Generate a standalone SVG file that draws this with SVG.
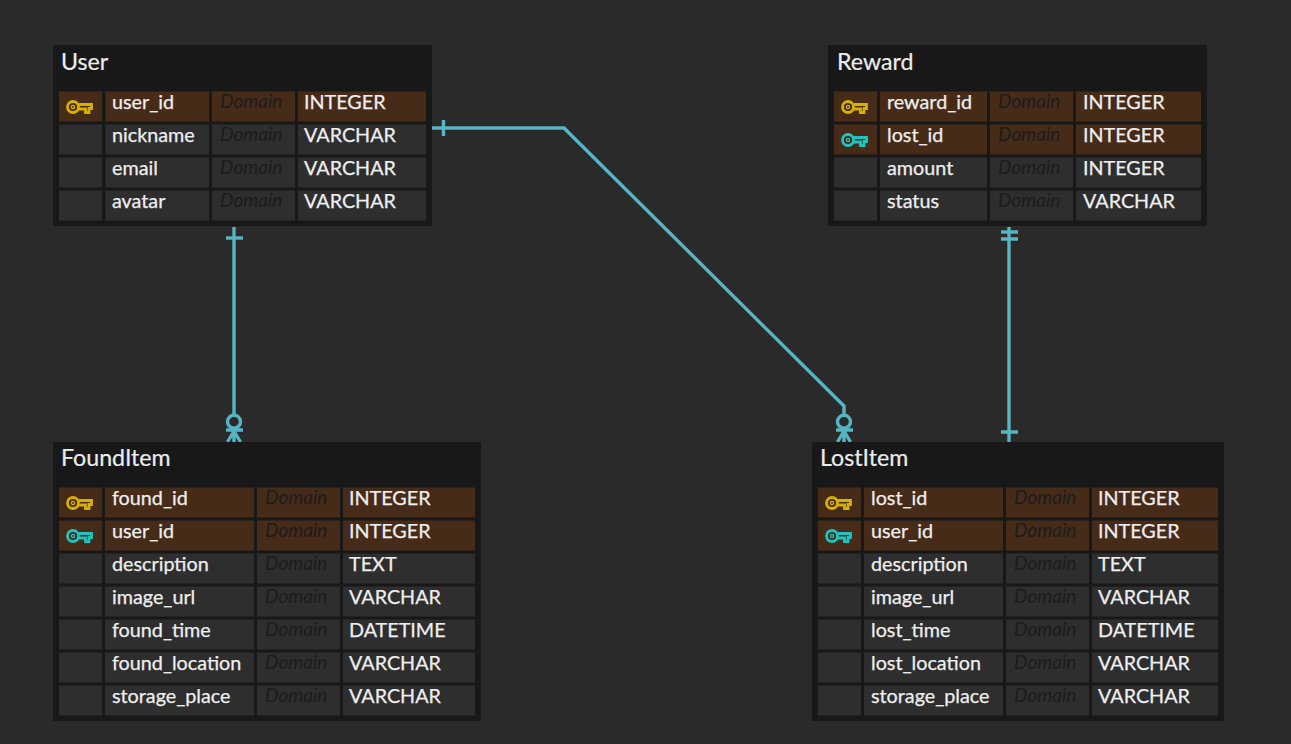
<svg xmlns="http://www.w3.org/2000/svg" width="1291" height="744" viewBox="0 0 1291 744">
<style>
text{font-family:Lato,"Noto Sans",sans-serif}
.t{fill:#181818}
.title{font-size:23.200px;fill:#ececec;stroke:#ececec;stroke-width:.2}
.c{fill:#2e2e2e}
.k{fill:#472b19}
.n{font-size:19.750px;fill:#eeeeee;stroke:#eeeeee;stroke-width:.25}
.d{font-size:19px;font-style:italic;fill:#1c1c1c}
.line{fill:none;stroke:#56b4c3;stroke-width:3.400}
</style>
<defs>
<g id="key" fill="none" stroke-width="2.800">
<circle cx="-6" cy="0" r="5.500"/><circle cx="-6" cy="0" r="1.600" stroke-width="1.400"/>
<path d="M0 -2.500H12.500V1.500H10V5.500H6.500V2H0"/>
</g>
</defs>
<rect width="1291" height="744" fill="#2a2a2a"/>
<g id="connectors" class="line">
<path d="M234 227V414"/><path d="M226 238H243"/>
<circle cx="234" cy="421.700" r="6.500"/><path d="M226 430H243M234 428V442M234 431L227.500 442M234 431L240.500 442"/>
<path d="M432 128H564L844 406V414"/><path d="M443.500 120V136"/>
<circle cx="844" cy="421.700" r="6.500"/><path d="M836 430H853M844 428V442M844 431L837.500 442M844 431L850.500 442"/>
<path d="M1009 227V442"/><path d="M1001 232H1018M1001 239H1018M1001 432H1018"/>
</g>
<g id="User">
<rect class="t" x="53" y="45" width="379" height="181"/>
<text class="title" x="61" y="70">User</text>
<rect class="k" x="59" y="91.500" width="43" height="30"/><rect class="k" x="105.500" y="91.500" width="103.500" height="30"/><rect class="k" x="212" y="91.500" width="83" height="30"/><rect class="k" x="298" y="91.500" width="128" height="30"/>
<rect class="c" x="59" y="124.500" width="43" height="30"/><rect class="c" x="105.500" y="124.500" width="103.500" height="30"/><rect class="c" x="212" y="124.500" width="83" height="30"/><rect class="c" x="298" y="124.500" width="128" height="30"/>
<rect class="c" x="59" y="157.500" width="43" height="30"/><rect class="c" x="105.500" y="157.500" width="103.500" height="30"/><rect class="c" x="212" y="157.500" width="83" height="30"/><rect class="c" x="298" y="157.500" width="128" height="30"/>
<rect class="c" x="59" y="190.500" width="43" height="30"/><rect class="c" x="105.500" y="190.500" width="103.500" height="30"/><rect class="c" x="212" y="190.500" width="83" height="30"/><rect class="c" x="298" y="190.500" width="128" height="30"/>
<use href="#key" x="79" y="107" stroke="#d8b000"/>
<text class="n" x="112" y="109">user_id</text><text class="d" x="220" y="108">Domain</text><text class="n" x="304" y="109">INTEGER</text>
<text class="n" x="112" y="142">nickname</text><text class="d" x="220" y="141">Domain</text><text class="n" x="304" y="142">VARCHAR</text>
<text class="n" x="112" y="175">email</text><text class="d" x="220" y="174">Domain</text><text class="n" x="304" y="175">VARCHAR</text>
<text class="n" x="112" y="208">avatar</text><text class="d" x="220" y="207">Domain</text><text class="n" x="304" y="208">VARCHAR</text>
</g>
<g id="Reward">
<rect class="t" x="828" y="45" width="379" height="181"/>
<text class="title" x="837" y="70">Reward</text>
<rect class="k" x="834" y="91.500" width="43" height="30"/><rect class="k" x="880" y="91.500" width="107" height="30"/><rect class="k" x="990" y="91.500" width="83" height="30"/><rect class="k" x="1076" y="91.500" width="125" height="30"/>
<rect class="k" x="834" y="124.500" width="43" height="30"/><rect class="k" x="880" y="124.500" width="107" height="30"/><rect class="k" x="990" y="124.500" width="83" height="30"/><rect class="k" x="1076" y="124.500" width="125" height="30"/>
<rect class="c" x="834" y="157.500" width="43" height="30"/><rect class="c" x="880" y="157.500" width="107" height="30"/><rect class="c" x="990" y="157.500" width="83" height="30"/><rect class="c" x="1076" y="157.500" width="125" height="30"/>
<rect class="c" x="834" y="190.500" width="43" height="30"/><rect class="c" x="880" y="190.500" width="107" height="30"/><rect class="c" x="990" y="190.500" width="83" height="30"/><rect class="c" x="1076" y="190.500" width="125" height="30"/>
<use href="#key" x="854" y="107" stroke="#d8b000"/><use href="#key" x="854" y="140" stroke="#1fc4c0"/>
<text class="n" x="887" y="109">reward_id</text><text class="d" x="998" y="108">Domain</text><text class="n" x="1083" y="109">INTEGER</text>
<text class="n" x="887" y="142">lost_id</text><text class="d" x="998" y="141">Domain</text><text class="n" x="1083" y="142">INTEGER</text>
<text class="n" x="887" y="175">amount</text><text class="d" x="998" y="174">Domain</text><text class="n" x="1083" y="175">INTEGER</text>
<text class="n" x="887" y="208">status</text><text class="d" x="998" y="207">Domain</text><text class="n" x="1083" y="208">VARCHAR</text>
</g>
<g id="FoundItem">
<rect class="t" x="53" y="442" width="428" height="279"/>
<text class="title" x="61" y="466">FoundItem</text>
<rect class="k" x="59" y="487.500" width="43" height="30"/><rect class="k" x="105" y="487.500" width="149" height="30"/><rect class="k" x="257" y="487.500" width="83" height="30"/><rect class="k" x="343" y="487.500" width="132" height="30"/>
<rect class="k" x="59" y="520.500" width="43" height="30"/><rect class="k" x="105" y="520.500" width="149" height="30"/><rect class="k" x="257" y="520.500" width="83" height="30"/><rect class="k" x="343" y="520.500" width="132" height="30"/>
<rect class="c" x="59" y="553.500" width="43" height="30"/><rect class="c" x="105" y="553.500" width="149" height="30"/><rect class="c" x="257" y="553.500" width="83" height="30"/><rect class="c" x="343" y="553.500" width="132" height="30"/>
<rect class="c" x="59" y="586.500" width="43" height="30"/><rect class="c" x="105" y="586.500" width="149" height="30"/><rect class="c" x="257" y="586.500" width="83" height="30"/><rect class="c" x="343" y="586.500" width="132" height="30"/>
<rect class="c" x="59" y="619.500" width="43" height="30"/><rect class="c" x="105" y="619.500" width="149" height="30"/><rect class="c" x="257" y="619.500" width="83" height="30"/><rect class="c" x="343" y="619.500" width="132" height="30"/>
<rect class="c" x="59" y="652.500" width="43" height="30"/><rect class="c" x="105" y="652.500" width="149" height="30"/><rect class="c" x="257" y="652.500" width="83" height="30"/><rect class="c" x="343" y="652.500" width="132" height="30"/>
<rect class="c" x="59" y="685.500" width="43" height="30"/><rect class="c" x="105" y="685.500" width="149" height="30"/><rect class="c" x="257" y="685.500" width="83" height="30"/><rect class="c" x="343" y="685.500" width="132" height="30"/>
<use href="#key" x="79" y="503" stroke="#d8b000"/><use href="#key" x="79" y="536" stroke="#1fc4c0"/>
<text class="n" x="112" y="505">found_id</text><text class="d" x="265" y="504">Domain</text><text class="n" x="349" y="505">INTEGER</text>
<text class="n" x="112" y="538">user_id</text><text class="d" x="265" y="537">Domain</text><text class="n" x="349" y="538">INTEGER</text>
<text class="n" x="112" y="571">description</text><text class="d" x="265" y="570">Domain</text><text class="n" x="349" y="571">TEXT</text>
<text class="n" x="112" y="604">image_url</text><text class="d" x="265" y="603">Domain</text><text class="n" x="349" y="604">VARCHAR</text>
<text class="n" x="112" y="637">found_time</text><text class="d" x="265" y="636">Domain</text><text class="n" x="349" y="637">DATETIME</text>
<text class="n" x="112" y="670">found_location</text><text class="d" x="265" y="669">Domain</text><text class="n" x="349" y="670">VARCHAR</text>
<text class="n" x="112" y="703">storage_place</text><text class="d" x="265" y="702">Domain</text><text class="n" x="349" y="703">VARCHAR</text>
</g>
<g id="LostItem">
<rect class="t" x="812" y="442" width="412" height="279"/>
<text class="title" x="820" y="466">LostItem</text>
<rect class="k" x="818" y="487.500" width="43" height="30"/><rect class="k" x="864" y="487.500" width="139" height="30"/><rect class="k" x="1006" y="487.500" width="83" height="30"/><rect class="k" x="1092" y="487.500" width="126" height="30"/>
<rect class="k" x="818" y="520.500" width="43" height="30"/><rect class="k" x="864" y="520.500" width="139" height="30"/><rect class="k" x="1006" y="520.500" width="83" height="30"/><rect class="k" x="1092" y="520.500" width="126" height="30"/>
<rect class="c" x="818" y="553.500" width="43" height="30"/><rect class="c" x="864" y="553.500" width="139" height="30"/><rect class="c" x="1006" y="553.500" width="83" height="30"/><rect class="c" x="1092" y="553.500" width="126" height="30"/>
<rect class="c" x="818" y="586.500" width="43" height="30"/><rect class="c" x="864" y="586.500" width="139" height="30"/><rect class="c" x="1006" y="586.500" width="83" height="30"/><rect class="c" x="1092" y="586.500" width="126" height="30"/>
<rect class="c" x="818" y="619.500" width="43" height="30"/><rect class="c" x="864" y="619.500" width="139" height="30"/><rect class="c" x="1006" y="619.500" width="83" height="30"/><rect class="c" x="1092" y="619.500" width="126" height="30"/>
<rect class="c" x="818" y="652.500" width="43" height="30"/><rect class="c" x="864" y="652.500" width="139" height="30"/><rect class="c" x="1006" y="652.500" width="83" height="30"/><rect class="c" x="1092" y="652.500" width="126" height="30"/>
<rect class="c" x="818" y="685.500" width="43" height="30"/><rect class="c" x="864" y="685.500" width="139" height="30"/><rect class="c" x="1006" y="685.500" width="83" height="30"/><rect class="c" x="1092" y="685.500" width="126" height="30"/>
<use href="#key" x="838" y="503" stroke="#d8b000"/><use href="#key" x="838" y="536" stroke="#1fc4c0"/>
<text class="n" x="871" y="505">lost_id</text><text class="d" x="1014" y="504">Domain</text><text class="n" x="1098" y="505">INTEGER</text>
<text class="n" x="871" y="538">user_id</text><text class="d" x="1014" y="537">Domain</text><text class="n" x="1098" y="538">INTEGER</text>
<text class="n" x="871" y="571">description</text><text class="d" x="1014" y="570">Domain</text><text class="n" x="1098" y="571">TEXT</text>
<text class="n" x="871" y="604">image_url</text><text class="d" x="1014" y="603">Domain</text><text class="n" x="1098" y="604">VARCHAR</text>
<text class="n" x="871" y="637">lost_time</text><text class="d" x="1014" y="636">Domain</text><text class="n" x="1098" y="637">DATETIME</text>
<text class="n" x="871" y="670">lost_location</text><text class="d" x="1014" y="669">Domain</text><text class="n" x="1098" y="670">VARCHAR</text>
<text class="n" x="871" y="703">storage_place</text><text class="d" x="1014" y="702">Domain</text><text class="n" x="1098" y="703">VARCHAR</text>
</g>
</svg>
